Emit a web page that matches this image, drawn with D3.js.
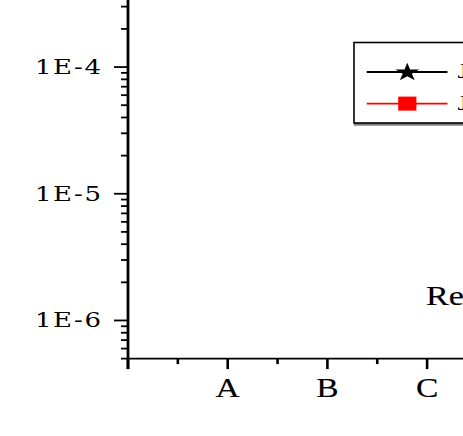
<!DOCTYPE html>
<html>
<head>
<meta charset="utf-8">
<script src="https://cdn.jsdelivr.net/npm/d3@7"></script>
<style>
  html, body { margin: 0; padding: 0; background: #fff; }
  svg { display: block; }
  text { font-family: "Liberation Serif", "Times New Roman", serif; fill: #000; }
</style>
</head>
<body>
<svg id="chart" width="463" height="436"></svg>
<script>
// categories on x, log ticks on y
var categories = ["A", "B", "C"];
var yMajorTicks = [1e-6, 1e-5, 1e-4];
var yTickLabels = ["1E-6", "1E-5", "1E-4"];
var yDomain = [5e-7, 1e-3];

// legend series (no points fall inside this view)
var seriesNames = ["J", "J"];
var seriesColors = ["#000000", "#ff0000"];
var seriesSymbols = [d3.symbolStar, d3.symbolSquare];

var annotation = "Re";

var svg = d3.select("#chart");
var sx = 1.3; // picture is stretched sideways

// 坐标比例尺
var x0 = 128, xStep = 99.7;
var x = d3.scaleLinear()
    .domain([0, 4])
    .range([x0, x0 + 4 * xStep]);

var yBottom = 358.6, decade = 126.7;
var y = d3.scaleLog()
    .domain(yDomain)
    .range([yBottom, yBottom - decade * Math.log10(yDomain[1] / yDomain[0])]);

// y 轴
var yMinor = y.ticks().filter(function (d) {
    return !yMajorTicks.some(function (m) { return Math.abs(m - d) / m < 1e-6; });
});

svg.append("g")
    .selectAll("line.ymin")
    .data(yMinor)
    .enter()
    .append("line")
    .attr("x1", x0 - 7).attr("x2", x0)
    .attr("y1", d => y(d)).attr("y2", d => y(d))
    .attr("stroke", "#000").attr("stroke-width", 1.8);

svg.append("g")
    .selectAll("line.ymaj")
    .data(yMajorTicks)
    .enter()
    .append("line")
    .attr("x1", x0 - 14).attr("x2", x0)
    .attr("y1", d => y(d)).attr("y2", d => y(d))
    .attr("stroke", "#000").attr("stroke-width", 1.8);

svg.append("g")
    .selectAll("text")
    .data(yMajorTicks)
    .enter()
    .append("text")
    .attr("transform", d => "translate(35," + (y(d) + 7) + ") scale(1.3,1)")
    .style("font-family", "'DejaVu Serif', serif")
    .attr("font-size", 20)
    .attr("textLength", 66 / 1.3)
    .attr("lengthAdjust", "spacing")
    .text((d, i) => yTickLabels[i]);

// x 轴
var xMinor = d3.range(0.5, 4.5, 1);
var xMajor = d3.range(0, 5, 1);

svg.append("line")
    .attr("x1", x0).attr("x2", 470)
    .attr("y1", yBottom).attr("y2", yBottom)
    .attr("stroke", "#000").attr("stroke-width", 1.8);

svg.append("g")
    .selectAll("line")
    .data(xMinor)
    .enter()
    .append("line")
    .attr("x1", d => x(d)).attr("x2", d => x(d))
    .attr("y1", yBottom).attr("y2", yBottom + 5.5)
    .attr("stroke", "#000").attr("stroke-width", 2.6);

svg.append("g")
    .selectAll("line")
    .data(xMajor)
    .enter()
    .append("line")
    .attr("x1", d => x(d)).attr("x2", d => x(d))
    .attr("y1", yBottom).attr("y2", yBottom + 10.5)
    .attr("stroke", "#000").attr("stroke-width", 2.6);

svg.append("line")
    .attr("x1", x0).attr("x2", x0)
    .attr("y1", -5).attr("y2", yBottom + 10.5)
    .attr("stroke", "#000").attr("stroke-width", 2.8);

svg.append("g")
    .selectAll("text")
    .data(categories)
    .enter()
    .append("text")
    .attr("transform", (d, i) => "translate(" + x(i + 1) + ",397) scale(1.22,1)")
    .attr("text-anchor", "middle")
    .attr("font-size", 27.5)
    .attr("stroke", "#000").attr("stroke-width", 0.15)
    .text(d => d);

// 注释文字
svg.append("text")
    .attr("transform", "translate(426,305) scale(1.22,1)")
    .attr("font-size", 28)
    .attr("stroke", "#000").attr("stroke-width", 0.15)
    .text(annotation);

// 图例
var legend = svg.append("g");
legend.append("line")
    .attr("x1", 354).attr("x2", 470)
    .attr("y1", 124.3).attr("y2", 124.3)
    .attr("stroke", "#808080").attr("stroke-width", 3);
legend.append("rect")
    .attr("x", 354).attr("y", 42.5)
    .attr("width", 200).attr("height", 80.5)
    .attr("fill", "#fff")
    .attr("stroke", "#000").attr("stroke-width", 1.6);

var rows = legend.selectAll("g.row")
    .data(seriesNames)
    .enter()
    .append("g")
    .attr("transform", (d, i) => "translate(0," + (72 + i * 31.6) + ")");

rows.append("line")
    .attr("x1", 366.7).attr("x2", 447.5)
    .attr("y1", 0).attr("y2", 0)
    .attr("stroke", (d, i) => seriesColors[i])
    .attr("stroke-width", (d, i) => i == 0 ? 2 : 1.6);

rows.append("path")
    .attr("transform", (d, i) => "translate(407.3," + (i == 0 ? 0.5 : 0) + ") scale(" + sx + ",1)")
    .attr("d", (d, i) => d3.symbol().type(seriesSymbols[i]).size(i == 0 ? 105 : 196)())
    .attr("fill", (d, i) => seriesColors[i]);

rows.append("text")
    .attr("transform", "translate(457.5,6) scale(1.22,1)")
    .attr("font-size", 22)
    .text(d => d);
</script>
</body>
</html>
